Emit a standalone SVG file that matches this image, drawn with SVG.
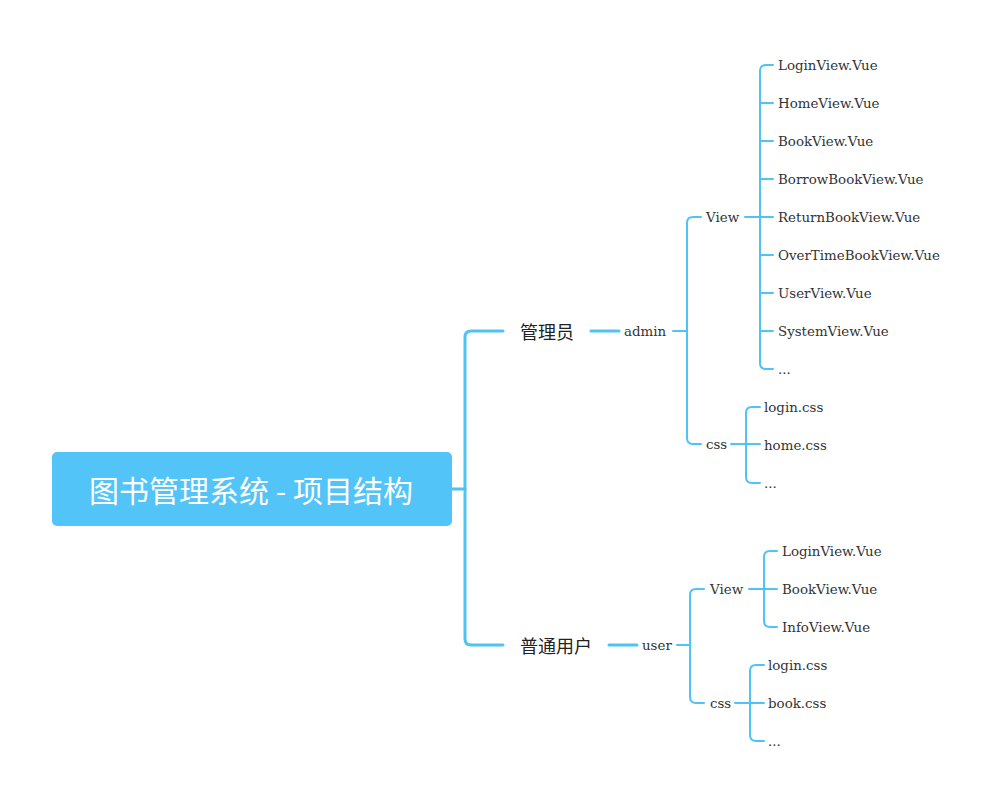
<svg xmlns="http://www.w3.org/2000/svg" width="997" height="806" viewBox="0 0 997 806">
<style>
.bg{fill:#ffffff}
.c3{fill:none;stroke:#4FC3F7;stroke-width:3;stroke-linecap:round}
.c2{fill:none;stroke:#4FC3F7;stroke-width:2;stroke-linecap:round}
.t{font-family:"DejaVu Serif","Liberation Serif",serif;font-size:13.4px;fill:#333333;dominant-baseline:central}
.cn{font-family:"Noto Sans CJK SC","Noto Sans",sans-serif;font-size:18px;fill:#222222;dominant-baseline:central}
.root{fill:#52C4F8}
.rt{font-family:"Noto Sans CJK SC","Noto Sans",sans-serif;font-size:30px;fill:#ffffff;dominant-baseline:central;text-anchor:middle}
</style>
<rect class="bg" x="0" y="0" width="997" height="806"/>
<g id="connectors">
<path class="c3" d="M452 489 H465"/>
<path class="c3" d="M503 331 H471 Q465 331 465 337 V639 Q465 645 471 645 H503"/>
<path class="c3" d="M591 331 H619"/>
<path class="c3" d="M609 645 H637"/>
<path class="c2" d="M673 331 H687"/>
<path class="c2" d="M701 217 H693 Q687 217 687 223 V438 Q687 444 693 444 H701"/>
<path class="c2" d="M745 217 H773"/>
<path class="c2" d="M773 65 H766 Q760 65 760 71 V363 Q760 369 766 369 H773"/>
<path class="c2" d="M760 103 H773 M760 141 H773 M760 179 H773 M760 255 H773 M760 293 H773 M760 331 H773"/>
<path class="c2" d="M731 444 H760"/>
<path class="c2" d="M760 407 H752 Q746 407 746 413 V477 Q746 483 752 483 H760"/>
<path class="c2" d="M677 645 H690"/>
<path class="c2" d="M704 589 H696 Q690 589 690 595 V697 Q690 703 696 703 H704"/>
<path class="c2" d="M749 589 H777"/>
<path class="c2" d="M777 551 H770 Q764 551 764 557 V621 Q764 627 770 627 H777"/>
<path class="c2" d="M735 703 H764"/>
<path class="c2" d="M764 665 H756 Q750 665 750 671 V735 Q750 741 756 741 H764"/>
</g>
<g id="root"><rect class="root" x="52" y="452" width="400" height="74" rx="5"/><text class="rt" x="251" y="489">图书管理系统 - 项目结构</text></g>
<g id="n-admin-cn"><text class="cn" x="520" y="331">管理员</text></g>
<g id="n-admin"><text class="t" x="624" y="331">admin</text></g>
<g id="n-admin-view"><text class="t" x="706" y="217">View</text></g>
<g id="n-a-v1"><text class="t" x="778" y="65">LoginView.Vue</text></g>
<g id="n-a-v2"><text class="t" x="778" y="103">HomeView.Vue</text></g>
<g id="n-a-v3"><text class="t" x="778" y="141">BookView.Vue</text></g>
<g id="n-a-v4"><text class="t" x="778" y="179">BorrowBookView.Vue</text></g>
<g id="n-a-v5"><text class="t" x="778" y="217">ReturnBookView.Vue</text></g>
<g id="n-a-v6"><text class="t" x="778" y="255">OverTimeBookView.Vue</text></g>
<g id="n-a-v7"><text class="t" x="778" y="293">UserView.Vue</text></g>
<g id="n-a-v8"><text class="t" x="778" y="331">SystemView.Vue</text></g>
<g id="n-a-v9"><text class="t" x="778" y="369">...</text></g>
<g id="n-admin-css"><text class="t" x="706" y="444">css</text></g>
<g id="n-a-c1"><text class="t" x="764" y="407">login.css</text></g>
<g id="n-a-c2"><text class="t" x="764" y="445">home.css</text></g>
<g id="n-a-c3"><text class="t" x="764" y="483">...</text></g>
<g id="n-user-cn"><text class="cn" x="520" y="645">普通用户</text></g>
<g id="n-user"><text class="t" x="642" y="645">user</text></g>
<g id="n-user-view"><text class="t" x="710" y="589">View</text></g>
<g id="n-u-v1"><text class="t" x="782" y="551">LoginView.Vue</text></g>
<g id="n-u-v2"><text class="t" x="782" y="589">BookView.Vue</text></g>
<g id="n-u-v3"><text class="t" x="782" y="627">InfoView.Vue</text></g>
<g id="n-user-css"><text class="t" x="710" y="703">css</text></g>
<g id="n-u-c1"><text class="t" x="768" y="665">login.css</text></g>
<g id="n-u-c2"><text class="t" x="768" y="703">book.css</text></g>
<g id="n-u-c3"><text class="t" x="768" y="741">...</text></g>
</svg>
